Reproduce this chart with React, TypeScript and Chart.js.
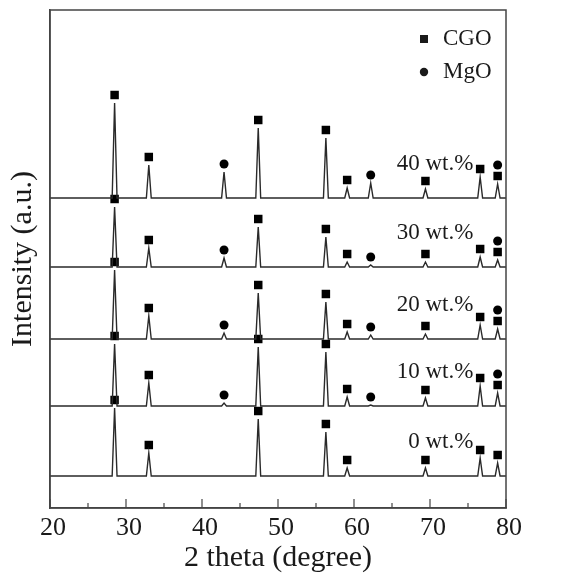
import React, { useEffect, useRef } from 'react';
import { Chart, registerables } from 'chart.js';
Chart.register(...registerables);

// ---- data ----
const samples = ['0 wt.%', '10 wt.%', '20 wt.%', '30 wt.%', '40 wt.%'];
// vertical stacking offsets of each pattern (arbitrary intensity units)
const baselines = [32, 102, 169, 241, 310];
// peak positions (2 theta, degree) and which phase they are indexed to
const peakTheta = [28.5, 33.0, 42.9, 47.4, 56.3, 59.1, 62.2, 69.4, 76.6, 78.9];
const peakPhase = ['CGO', 'CGO', 'MgO', 'CGO', 'CGO', 'CGO', 'MgO', 'CGO', 'CGO', 'CGO+MgO'];
// peak heights above baseline for every sample
const heights0 = [68, 23, 0, 57, 44, 8, 0, 8, 18, 13];
const heights10 = [62, 23, 3, 59, 54, 9, 1, 8, 20, 13];
const heights20 = [69, 23, 6, 46, 37, 7, 4, 5, 14, 10];
const heights30 = [60, 19, 9, 40, 30, 5, 2, 5, 10, 7];
const heights40 = [95, 33, 26, 70, 60, 10, 15, 9, 21, 14];
const allHeights = [heights0, heights10, heights20, heights30, heights40];
const xTicks = [20, 30, 40, 50, 60, 70, 80];
const legendNames = ['CGO', 'MgO'];

const FONT = '"Liberation Serif", "Times New Roman", serif';
const INK = '#1a1a1a';

function buildTrace(si: number) {
  const base = baselines[si];
  const hs = allHeights[si];
  const pts: { x: number; y: number }[] = [{ x: 20, y: base }];
  peakTheta.forEach((t, i) => {
    if (hs[i] <= 0) return;
    pts.push({ x: t - 0.32, y: base });
    pts.push({ x: t, y: base + hs[i] });
    pts.push({ x: t + 0.32, y: base });
  });
  pts.push({ x: 80, y: base });
  return pts;
}

function buildMarkers() {
  const sq: { x: number; y: number }[] = [];
  const ci: { x: number; y: number }[] = [];
  samples.forEach((_, si) => {
    const base = baselines[si];
    const hs = allHeights[si];
    peakTheta.forEach((t, i) => {
      const top = base + hs[i];
      const ph = peakPhase[i];
      const hasMgO = si > 0;
      if (ph === 'CGO') sq.push({ x: t, y: top + 8 });
      else if (ph === 'MgO') {
        if (hasMgO && hs[i] > 0) ci.push({ x: t, y: top + 8 });
      } else {
        sq.push({ x: t, y: top + 8 });
        if (hasMgO) ci.push({ x: t, y: top + 19 });
      }
    });
  });
  return { sq, ci };
}

const framePlugin = {
  id: 'frameAndLabels',
  afterDraw(chart: any) {
    const { ctx, chartArea: a, scales } = chart;
    const xs = scales.x;
    const ys = scales.y;
    ctx.save();
    // frame
    ctx.strokeStyle = '#444';
    ctx.lineWidth = 1.5;
    ctx.strokeRect(a.left, a.top, a.right - a.left, a.bottom - a.top);
    // inward ticks on bottom axis
    ctx.lineWidth = 1.2;
    for (let v = 20; v <= 80; v += 5) {
      const px = xs.getPixelForValue(v);
      const len = v % 10 === 0 ? 9 : 5;
      ctx.beginPath();
      ctx.moveTo(px, a.bottom);
      ctx.lineTo(px, a.bottom - len);
      ctx.stroke();
    }
    // sample labels
    ctx.fillStyle = INK;
    ctx.font = `23px ${FONT}`;
    ctx.textAlign = 'right';
    ctx.textBaseline = 'middle';
    samples.forEach((s, si) => {
      ctx.fillText(s, xs.getPixelForValue(75.7), ys.getPixelForValue(baselines[si] + 34));
    });
    // legend
    const lx = 424;
    const ly = [39, 72];
    ctx.textAlign = 'left';
    ctx.fillRect(lx - 4, ly[0] - 4, 8, 8);
    ctx.beginPath();
    ctx.arc(lx, ly[1], 4.2, 0, Math.PI * 2);
    ctx.fill();
    ctx.fillText(legendNames[0], 443, ly[0]);
    ctx.fillText(legendNames[1], 443, ly[1]);
    ctx.restore();
  },
};

export default function App() {
  const ref = useRef<HTMLCanvasElement>(null);
  useEffect(() => {
    document.body.style.margin = '0';
    const { sq, ci } = buildMarkers();
    const traces = samples.map((s, si) => ({
      type: 'line' as const,
      label: s,
      data: buildTrace(si),
      borderColor: '#2a2a2a',
      borderWidth: 1.4,
      pointRadius: 0,
      tension: 0,
      fill: false,
    }));
    const chart = new Chart(ref.current!, {
      type: 'scatter',
      data: {
        datasets: [
          ...traces,
          {
            type: 'scatter' as const,
            label: 'CGO',
            data: sq,
            pointStyle: 'rect',
            pointRadius: 6,
            backgroundColor: '#000',
            borderWidth: 0,
          },
          {
            type: 'scatter' as const,
            label: 'MgO',
            data: ci,
            pointStyle: 'circle',
            pointRadius: 4.5,
            backgroundColor: '#000',
            borderWidth: 0,
          },
        ] as any,
      },
      options: {
        animation: false,
        responsive: false,
        maintainAspectRatio: false,
        layout: { padding: { top: 10, right: 68, left: 0, bottom: 0 } },
        plugins: { legend: { display: false }, tooltip: { enabled: false } },
        scales: {
          x: {
            type: 'linear',
            min: 20,
            max: 80,
            afterFit: (s: any) => { s.height = 71; },
            afterBuildTicks: (s: any) => { s.ticks = xTicks.map((v) => ({ value: v })); },
            ticks: { font: { family: FONT, size: 26 }, color: INK, padding: 5, labelOffset: 3, maxRotation: 0, autoSkip: false },
            grid: { display: false, drawTicks: false },
            border: { display: true, color: '#444', width: 1.5 },
            title: { display: true, text: '2 theta (degree)', font: { family: FONT, size: 30 }, color: INK, padding: { top: 0, bottom: 3 } },
          },
          y: {
            type: 'linear',
            min: 0,
            max: 498,
            afterFit: (s: any) => { s.width = 50; },
            ticks: { display: false },
            grid: { display: false, drawTicks: false },
            border: { display: true, color: '#444', width: 1.5 },
            title: { display: true, text: 'Intensity (a.u.)', font: { family: FONT, size: 30 }, color: INK, padding: { top: 5, bottom: 0 } },
          },
        },
      } as any,
      plugins: [framePlugin],
    });
    return () => chart.destroy();
  }, []);
  return (
    <div style={{ width: 574, height: 579, background: '#fff' }}>
      <canvas ref={ref} width={574} height={579} style={{ display: 'block', width: 574, height: 579 }} />
    </div>
  );
}
